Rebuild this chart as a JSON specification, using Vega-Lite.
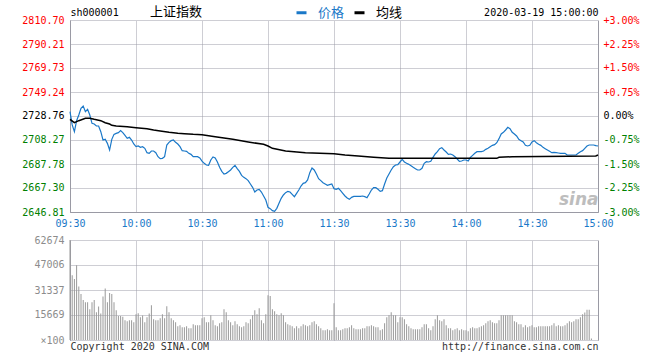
{
  "$schema": "https://vega.github.io/schema/vega-lite/v6.json",
  "width": 528,
  "height": 320,
  "autosize": {"type": "none"},
  "padding": {"left": 70, "top": 20, "right": 62, "bottom": 20},
  "background": "white",
  "title": {"text": "上证指数", "anchor": "start", "frame": "group", "dx": 80, "dy": 17, "offset": 4, "font": "Noto Sans CJK SC", "fontSize": 13, "fontWeight": "normal", "color": "#000000"},
  "config": {
    "view": {"stroke": null},
    "axis": {"labelFont": "DejaVu Sans Mono", "labelFontSize": 10, "titleFont": "DejaVu Sans Mono", "titleFontSize": 10, "titleFontWeight": "normal", "ticks": false, "domain": true, "domainColor": "#9a9aa4", "domainWidth": 1, "labelOverlap": false, "labelFlush": false, "gridWidth": 1, "gridColor": "#9c9ca8", "gridDash": [1, 1]}
  },
  "datasets": {
    "price": [
      {"m":0,"p":2732.45},{"m":1,"p":2721.1},{"m":2,"p":2715.38},{"m":3,"p":2724.77},{"m":4,"p":2729.61},{"m":5,"p":2735.3},{"m":6,"p":2737.29},{"m":7,"p":2732.45},{"m":8,"p":2734.44},{"m":9,"p":2729.61},
      {"m":10,"p":2722.49},{"m":11,"p":2721.93},{"m":12,"p":2720.22},{"m":13,"p":2720.22},{"m":14,"p":2715.38},{"m":15,"p":2708.27},{"m":16,"p":2708.84},{"m":17,"p":2705.42},{"m":18,"p":2699.73},{"m":19,"p":2708.84},
      {"m":20,"p":2713.1},{"m":21,"p":2713.96},{"m":22,"p":2714.53},{"m":23,"p":2716.23},{"m":24,"p":2714.53},{"m":25,"p":2712.25},{"m":26,"p":2709.69},{"m":27,"p":2710.54},{"m":28,"p":2708.27},{"m":29,"p":2704.85},
      {"m":30,"p":2702.58},{"m":31,"p":2703.14},{"m":32,"p":2702.01},{"m":33,"p":2702.58},{"m":34,"p":2701.15},{"m":35,"p":2697.46},{"m":36,"p":2696.89},{"m":37,"p":2698.88},{"m":38,"p":2698.88},{"m":39,"p":2697.46},
      {"m":40,"p":2694.04},{"m":41,"p":2692.33},{"m":42,"p":2692.62},{"m":43,"p":2694.04},{"m":44,"p":2704.0},{"m":45,"p":2706.28},{"m":46,"p":2707.7},{"m":47,"p":2708.27},{"m":48,"p":2706.28},{"m":49,"p":2704.85},
      {"m":50,"p":2702.58},{"m":51,"p":2699.16},{"m":52,"p":2698.88},{"m":53,"p":2698.59},{"m":54,"p":2696.89},{"m":55,"p":2696.03},{"m":56,"p":2694.04},{"m":57,"p":2694.04},{"m":58,"p":2694.04},{"m":59,"p":2692.9},
      {"m":60,"p":2690.3},{"m":61,"p":2688.35},{"m":62,"p":2686.93},{"m":63,"p":2686.64},{"m":64,"p":2691.2},{"m":65,"p":2693.76},{"m":66,"p":2692.9},{"m":67,"p":2689.49},{"m":68,"p":2684.94},{"m":69,"p":2681.52},
      {"m":70,"p":2679.24},{"m":71,"p":2679.81},{"m":72,"p":2681.24},{"m":73,"p":2682.66},{"m":74,"p":2684.94},{"m":75,"p":2686.64},{"m":76,"p":2683.8},{"m":77,"p":2681.52},{"m":78,"p":2678.11},{"m":79,"p":2676.4},
      {"m":80,"p":2675.26},{"m":81,"p":2673.55},{"m":82,"p":2670.71},{"m":83,"p":2667.87},{"m":84,"p":2663.88},{"m":85,"p":2665.59},{"m":86,"p":2666.16},{"m":87,"p":2663.88},{"m":88,"p":2660.47},{"m":89,"p":2657.05},
      {"m":90,"p":2650.79},{"m":91,"p":2649.65},{"m":92,"p":2647.95},{"m":93,"p":2647.38},{"m":94,"p":2649.94},{"m":95,"p":2654.21},{"m":96,"p":2658.48},{"m":97,"p":2661.33},{"m":98,"p":2663.32},{"m":99,"p":2664.46},
      {"m":100,"p":2663.88},{"m":101,"p":2661.89},{"m":102,"p":2659.9},{"m":103,"p":2662.74},{"m":104,"p":2665.59},{"m":105,"p":2669.0},{"m":106,"p":2671.28},{"m":107,"p":2671.85},{"m":108,"p":2674.13},{"m":109,"p":2680.38},
      {"m":110,"p":2684.37},{"m":111,"p":2682.66},{"m":112,"p":2679.24},{"m":113,"p":2675.26},{"m":114,"p":2673.55},{"m":115,"p":2671.85},{"m":116,"p":2670.71},{"m":117,"p":2669.57},{"m":118,"p":2670.14},{"m":119,"p":2670.71},
      {"m":120,"p":2666.73},{"m":121,"p":2666.16},{"m":122,"p":2667.01},{"m":123,"p":2665.02},{"m":124,"p":2662.74},{"m":125,"p":2660.47},{"m":126,"p":2658.76},{"m":127,"p":2657.62},{"m":128,"p":2659.33},{"m":129,"p":2660.18},
      {"m":130,"p":2660.18},{"m":131,"p":2660.18},{"m":132,"p":2660.18},{"m":133,"p":2660.47},{"m":134,"p":2659.9},{"m":135,"p":2659.04},{"m":136,"p":2662.18},{"m":137,"p":2665.59},{"m":138,"p":2667.58},{"m":139,"p":2667.58},
      {"m":140,"p":2666.16},{"m":141,"p":2664.46},{"m":142,"p":2665.02},{"m":143,"p":2670.71},{"m":144,"p":2675.83},{"m":145,"p":2679.24},{"m":146,"p":2682.66},{"m":147,"p":2685.51},{"m":148,"p":2686.93},{"m":149,"p":2687.21},
      {"m":150,"p":2689.49},{"m":151,"p":2691.77},{"m":152,"p":2689.49},{"m":153,"p":2688.35},{"m":154,"p":2687.5},{"m":155,"p":2686.36},{"m":156,"p":2684.94},{"m":157,"p":2683.8},{"m":158,"p":2682.66},{"m":159,"p":2682.66},
      {"m":160,"p":2684.08},{"m":161,"p":2688.35},{"m":162,"p":2689.77},{"m":163,"p":2689.49},{"m":164,"p":2690.06},{"m":165,"p":2693.47},{"m":166,"p":2696.32},{"m":167,"p":2698.31},{"m":168,"p":2700.87},{"m":169,"p":2701.72},
      {"m":170,"p":2699.73},{"m":171,"p":2698.03},{"m":172,"p":2696.03},{"m":173,"p":2696.32},{"m":174,"p":2695.46},{"m":175,"p":2694.04},{"m":176,"p":2692.05},{"m":177,"p":2690.06},{"m":178,"p":2690.35},{"m":179,"p":2691.2},
      {"m":180,"p":2691.2},{"m":181,"p":2690.35},{"m":182,"p":2693.47},{"m":183,"p":2695.18},{"m":184,"p":2696.89},{"m":185,"p":2698.31},{"m":186,"p":2698.31},{"m":187,"p":2698.31},{"m":188,"p":2698.88},{"m":189,"p":2700.3},
      {"m":190,"p":2701.15},{"m":191,"p":2702.58},{"m":192,"p":2703.72},{"m":193,"p":2704.28},{"m":194,"p":2705.99},{"m":195,"p":2709.41},{"m":196,"p":2713.39},{"m":197,"p":2714.81},{"m":198,"p":2716.8},{"m":199,"p":2719.08},
      {"m":200,"p":2717.94},{"m":201,"p":2714.81},{"m":202,"p":2713.39},{"m":203,"p":2711.68},{"m":204,"p":2708.84},{"m":205,"p":2707.7},{"m":206,"p":2706.56},{"m":207,"p":2703.72},{"m":208,"p":2703.15},{"m":209,"p":2703.72},
      {"m":210,"p":2706.56},{"m":211,"p":2707.7},{"m":212,"p":2705.99},{"m":213,"p":2704.57},{"m":214,"p":2703.72},{"m":215,"p":2702.01},{"m":216,"p":2700.87},{"m":217,"p":2699.73},{"m":218,"p":2698.59},{"m":219,"p":2697.46},
      {"m":220,"p":2697.74},{"m":221,"p":2697.46},{"m":222,"p":2697.17},{"m":223,"p":2696.89},{"m":224,"p":2696.89},{"m":225,"p":2696.89},{"m":226,"p":2695.46},{"m":227,"p":2695.46},{"m":228,"p":2695.46},{"m":229,"p":2695.46},
      {"m":230,"p":2695.46},{"m":231,"p":2696.89},{"m":232,"p":2698.31},{"m":233,"p":2699.16},{"m":234,"p":2701.15},{"m":235,"p":2703.15},{"m":236,"p":2704.0},{"m":237,"p":2704.0},{"m":238,"p":2704.0},{"m":239,"p":2703.43},
      {"m":240,"p":2703.15}
    ],
    "avg": [
      {"m":0,"a":2725.91},{"m":2,"a":2723.06},{"m":4,"a":2724.77},{"m":7,"a":2726.76},{"m":9,"a":2726.76},{"m":11,"a":2725.91},{"m":14,"a":2724.77},{"m":16,"a":2723.06},{"m":18,"a":2721.93},{"m":19,"a":2720.79},
      {"m":21,"a":2720.22},{"m":26,"a":2719.65},{"m":30,"a":2718.8},{"m":35,"a":2717.94},{"m":38,"a":2716.8},{"m":41,"a":2715.95},{"m":45,"a":2714.81},{"m":49,"a":2713.96},{"m":52,"a":2713.67},{"m":56,"a":2713.1},
      {"m":60,"a":2712.82},{"m":66,"a":2711.11},{"m":74,"a":2708.84},{"m":81,"a":2706.56},{"m":88,"a":2704.57},{"m":90,"a":2703.15},{"m":92,"a":2701.15},{"m":98,"a":2698.88},{"m":107,"a":2697.46},{"m":120,"a":2696.6},
      {"m":125,"a":2695.46},{"m":131,"a":2694.61},{"m":138,"a":2693.47},{"m":145,"a":2692.62},{"m":180,"a":2692.62},{"m":194,"a":2692.62},{"m":195,"a":2693.47},{"m":201,"a":2694.04},{"m":239,"a":2694.61},{"m":240,"a":2695.46}
    ],
    "vol": [
      {"m":0,"v":62674},{"m":1,"v":40530},{"m":2,"v":38200},{"m":3,"v":46800},{"m":4,"v":33600},{"m":5,"v":28800},{"m":6,"v":25000},{"m":7,"v":23700},{"m":8,"v":23700},{"m":9,"v":19300},
      {"m":10,"v":23700},{"m":11,"v":25000},{"m":12,"v":17400},{"m":13,"v":21000},{"m":14,"v":16600},{"m":15,"v":27300},{"m":16,"v":32300},{"m":17,"v":23700},{"m":18,"v":29400},{"m":19,"v":28800},
      {"m":20,"v":23700},{"m":21,"v":18700},{"m":22,"v":15100},{"m":23,"v":15100},{"m":24,"v":14500},{"m":25,"v":12400},{"m":26,"v":11800},{"m":27,"v":12400},{"m":28,"v":12400},{"m":29,"v":11100},
      {"m":30,"v":16200},{"m":31,"v":16800},{"m":32,"v":14300},{"m":33,"v":15300},{"m":34,"v":11100},{"m":35,"v":14300},{"m":36,"v":16600},{"m":37,"v":21800},{"m":38,"v":13000},{"m":39,"v":12400},
      {"m":40,"v":12400},{"m":41,"v":13700},{"m":42,"v":16200},{"m":43,"v":13700},{"m":44,"v":21200},{"m":45,"v":17400},{"m":46,"v":13700},{"m":47,"v":12400},{"m":48,"v":11100},{"m":49,"v":8600},
      {"m":50,"v":9200},{"m":51,"v":8000},{"m":52,"v":8000},{"m":53,"v":8600},{"m":54,"v":7350},{"m":55,"v":7350},{"m":56,"v":9900},{"m":57,"v":9200},{"m":58,"v":9200},{"m":59,"v":9200},
      {"m":60,"v":13700},{"m":61,"v":14300},{"m":62,"v":11100},{"m":63,"v":11100},{"m":64,"v":15500},{"m":65,"v":12400},{"m":66,"v":9200},{"m":67,"v":8600},{"m":68,"v":10500},{"m":69,"v":11100},
      {"m":70,"v":19300},{"m":71,"v":17400},{"m":72,"v":12400},{"m":73,"v":11100},{"m":74,"v":9200},{"m":75,"v":11800},{"m":76,"v":9900},{"m":77,"v":8600},{"m":78,"v":8000},{"m":79,"v":8600},
      {"m":80,"v":11100},{"m":81,"v":10500},{"m":82,"v":13000},{"m":83,"v":15500},{"m":84,"v":18700},{"m":85,"v":16200},{"m":86,"v":19900},{"m":87,"v":12400},{"m":88,"v":10500},{"m":89,"v":16200},
      {"m":90,"v":28100},{"m":91,"v":27500},{"m":92,"v":19300},{"m":93,"v":18000},{"m":94,"v":16200},{"m":95,"v":15500},{"m":96,"v":16800},{"m":97,"v":15500},{"m":98,"v":11100},{"m":99,"v":9900},
      {"m":100,"v":9200},{"m":101,"v":8600},{"m":102,"v":7350},{"m":103,"v":8600},{"m":104,"v":7350},{"m":105,"v":8600},{"m":106,"v":9900},{"m":107,"v":9200},{"m":108,"v":8600},{"m":109,"v":9200},
      {"m":110,"v":11100},{"m":111,"v":11800},{"m":112,"v":9900},{"m":113,"v":8600},{"m":114,"v":7350},{"m":115,"v":6100},{"m":116,"v":6100},{"m":117,"v":6700},{"m":118,"v":6100},{"m":119,"v":6100},
      {"m":120,"v":23100},{"m":121,"v":8000},{"m":122,"v":6100},{"m":123,"v":6100},{"m":124,"v":6700},{"m":125,"v":7350},{"m":126,"v":7350},{"m":127,"v":8000},{"m":128,"v":9200},{"m":129,"v":7350},
      {"m":130,"v":6700},{"m":131,"v":6700},{"m":132,"v":6700},{"m":133,"v":7350},{"m":134,"v":7350},{"m":135,"v":8600},{"m":136,"v":8600},{"m":137,"v":9200},{"m":138,"v":8600},{"m":139,"v":8000},
      {"m":140,"v":8000},{"m":141,"v":6100},{"m":142,"v":6700},{"m":143,"v":10500},{"m":144,"v":14300},{"m":145,"v":15500},{"m":146,"v":17400},{"m":147,"v":15500},{"m":148,"v":15500},{"m":149,"v":11100},
      {"m":150,"v":14300},{"m":151,"v":14300},{"m":152,"v":13000},{"m":153,"v":9900},{"m":154,"v":8600},{"m":155,"v":7350},{"m":156,"v":6700},{"m":157,"v":6700},{"m":158,"v":6700},{"m":159,"v":6700},
      {"m":160,"v":8000},{"m":161,"v":9900},{"m":162,"v":9900},{"m":163,"v":7350},{"m":164,"v":6100},{"m":165,"v":8600},{"m":166,"v":13000},{"m":167,"v":15500},{"m":168,"v":12400},{"m":169,"v":11800},
      {"m":170,"v":13000},{"m":171,"v":9200},{"m":172,"v":7350},{"m":173,"v":7350},{"m":174,"v":6100},{"m":175,"v":6700},{"m":176,"v":7350},{"m":177,"v":6100},{"m":178,"v":6700},{"m":179,"v":6100},
      {"m":180,"v":6100},{"m":181,"v":5500},{"m":182,"v":7350},{"m":183,"v":8000},{"m":184,"v":7350},{"m":185,"v":7350},{"m":186,"v":8000},{"m":187,"v":8600},{"m":188,"v":9200},{"m":189,"v":10500},
      {"m":190,"v":11800},{"m":191,"v":12400},{"m":192,"v":11100},{"m":193,"v":10500},{"m":194,"v":10500},{"m":195,"v":12400},{"m":196,"v":15500},{"m":197,"v":15500},{"m":198,"v":15500},{"m":199,"v":15500},
      {"m":200,"v":15500},{"m":201,"v":15500},{"m":202,"v":11800},{"m":203,"v":11100},{"m":204,"v":9900},{"m":205,"v":9900},{"m":206,"v":8000},{"m":207,"v":9200},{"m":208,"v":8000},{"m":209,"v":8600},
      {"m":210,"v":9200},{"m":211,"v":8000},{"m":212,"v":8000},{"m":213,"v":8600},{"m":214,"v":8600},{"m":215,"v":8600},{"m":216,"v":8600},{"m":217,"v":8600},{"m":218,"v":8600},{"m":219,"v":9200},
      {"m":220,"v":10500},{"m":221,"v":8600},{"m":222,"v":9200},{"m":223,"v":8600},{"m":224,"v":8600},{"m":225,"v":9200},{"m":226,"v":10500},{"m":227,"v":11800},{"m":228,"v":11100},{"m":229,"v":11800},
      {"m":230,"v":13000},{"m":231,"v":13000},{"m":232,"v":14300},{"m":233,"v":16200},{"m":234,"v":17300},{"m":235,"v":19000},{"m":236,"v":19000},{"m":237,"v":1000}
    ]
  },
  "layer": [
    {
      "data": {"name": "price"},
      "mark": {"type": "line", "strokeWidth": 1.2},
      "encoding": {
        "x": {
          "field": "m", "type": "quantitative",
          "scale": {"domain": [0, 240], "nice": false, "zero": false, "padding": 0},
          "axis": {
            "orient": "top", "offset": -192,
            "values": [0, 30, 60, 90, 120, 150, 180, 210, 240],
            "labelExpr": "datum.value == 0 ? '09:30' : datum.value == 30 ? '10:00' : datum.value == 60 ? '10:30' : datum.value == 90 ? '11:00' : datum.value == 120 ? '11:30' : datum.value == 150 ? '13:30' : datum.value == 180 ? '14:00' : datum.value == 210 ? '14:30' : '15:00'",
            "labelColor": "#1a78c8", "labelPadding": -11, "labelBaseline": "middle", "labelAlign": "center",
            "grid": true,
            "title": "sina", "titleX": 528, "titleY": -13, "titleAlign": "right", "titleBaseline": "middle",
            "titleFont": "DejaVu Sans", "titleFontStyle": "italic", "titleFontWeight": "bold", "titleFontSize": 17, "titleColor": "#bdbdbd"
          }
        },
        "y": {
          "field": "p", "type": "quantitative",
          "scale": {"domain": [2646.81, 2810.70], "range": [192, 0], "nice": false, "zero": false},
          "axis": {
            "orient": "left",
            "values": [2646.81, 2667.30, 2687.78, 2708.27, 2728.76, 2749.24, 2769.73, 2790.21, 2810.70],
            "format": ".2f", "labelPadding": 6, "labelBaseline": "middle",
            "labelColor": {"condition": [{"test": "datum.value > 2728.77", "value": "#ff0000"}, {"test": "datum.value < 2728.75", "value": "#008000"}], "value": "#000000"},
            "grid": true,
            "title": "sh000001", "titleAngle": 0, "titleAlign": "left", "titleBaseline": "middle", "titleX": 0, "titleY": -8, "titleColor": "#000000"
          }
        },
        "color": {
          "datum": "价格", "type": "nominal",
          "scale": {"domain": ["价格", "均线"], "range": ["#1a78c8", "#000000"]},
          "legend": {
            "orient": "none", "legendX": 225, "legendY": -14, "direction": "horizontal", "title": null,
            "symbolType": "stroke", "symbolStrokeWidth": 3, "symbolSize": 100,
            "labelFont": "Noto Sans CJK SC", "labelFontSize": 13, "labelOffset": 10, "columnPadding": 3, "padding": 0,
            "encode": {"labels": {"update": {"fill": {"signal": "datum.label === '价格' ? '#1a78c8' : '#000000'"}}}}
          }
        }
      }
    },
    {
      "data": {"name": "avg"},
      "mark": {"type": "line", "strokeWidth": 1.5},
      "encoding": {
        "x": {"field": "m", "type": "quantitative", "axis": null},
        "y": {
          "field": "a", "type": "quantitative",
          "scale": {"domain": [2646.81, 2810.70], "range": [192, 0], "nice": false, "zero": false},
          "axis": {
            "orient": "right",
            "values": [2646.81, 2667.30, 2687.78, 2708.27, 2728.76, 2749.24, 2769.73, 2790.21, 2810.70],
            "labelExpr": "(datum.value > 2728.77 ? '+' : datum.value < 2728.75 ? '-' : '') + format(abs(datum.value - 2728.76) / 2728.76 * 100, '.2f') + '%'",
            "labelPadding": 5, "labelAlign": "left", "labelBaseline": "middle",
            "labelColor": {"condition": [{"test": "datum.value > 2728.77", "value": "#ff0000"}, {"test": "datum.value < 2728.75", "value": "#008000"}], "value": "#000000"},
            "grid": false,
            "title": "2020-03-19 15:00:00", "titleAngle": 0, "titleAlign": "right", "titleBaseline": "middle", "titleX": 0, "titleY": -8, "titleColor": "#000000"
          }
        },
        "color": {"datum": "均线", "type": "nominal", "scale": {"domain": ["价格", "均线"], "range": ["#1a78c8", "#000000"]}}
      }
    },
    {
      "mark": {"type": "rule", "color": "#000000", "strokeWidth": 1, "strokeDash": [2, 1]},
      "encoding": {
        "y": {"datum": 2728.76, "type": "quantitative", "scale": {"domain": [2646.81, 2810.70], "range": [192, 0], "nice": false, "zero": false}, "axis": null}
      }
    },
    {
      "mark": {"type": "rule", "color": "#9a9aa4", "strokeWidth": 1},
      "encoding": {
        "y": {"datum": 2810.70, "type": "quantitative", "scale": {"domain": [2646.81, 2810.70], "range": [192, 0], "nice": false, "zero": false}, "axis": null}
      }
    },
    {
      "data": {"name": "vol"},
      "mark": {"type": "bar", "width": 1, "color": "#999999"},
      "encoding": {
        "x": {
          "field": "m", "type": "quantitative",
          "axis": {
            "orient": "top", "labels": false, "domain": false,
            "values": [0, 30, 60, 90, 120, 150, 180, 210, 240],
            "grid": true,
            "title": "Copyright 2020 SINA.COM", "titleX": 0, "titleY": 326, "titleAlign": "left", "titleBaseline": "middle", "titleColor": "#333333"
          }
        },
        "y": {
          "field": "v", "type": "quantitative",
          "scale": {"domain": [0, 62674], "range": [320, 220], "nice": false, "zero": true},
          "axis": {
            "orient": "left",
            "values": [0, 15669, 31337, 47006, 62674],
            "format": "d",
            "labelExpr": "datum.value == 0 ? '×100' : datum.label",
            "labelColor": "#8c8c8c", "labelPadding": 6, "labelBaseline": "middle",
            "grid": true,
            "title": "http://finance.sina.com.cn", "titleAngle": 0, "titleX": 528, "titleY": 326, "titleAlign": "right", "titleBaseline": "middle", "titleColor": "#333333"
          }
        }
      }
    },
    {
      "mark": {"type": "rule", "color": "#9a9aa4", "strokeWidth": 1},
      "encoding": {
        "y": {"datum": 62674, "type": "quantitative", "scale": {"domain": [0, 62674], "range": [320, 220], "nice": false, "zero": true}, "axis": null}
      }
    },
    {
      "mark": {"type": "rule", "color": "#9a9aa4", "strokeWidth": 1},
      "encoding": {
        "y": {"datum": 0, "type": "quantitative", "scale": {"domain": [0, 62674], "range": [320, 220], "nice": false, "zero": true}, "axis": {"orient": "right", "labels": false, "grid": false, "title": null, "values": [0, 62674]}}
      }
    }
  ],
  "resolve": {"scale": {"y": "independent"}, "axis": {"x": "independent", "y": "independent"}}
}
